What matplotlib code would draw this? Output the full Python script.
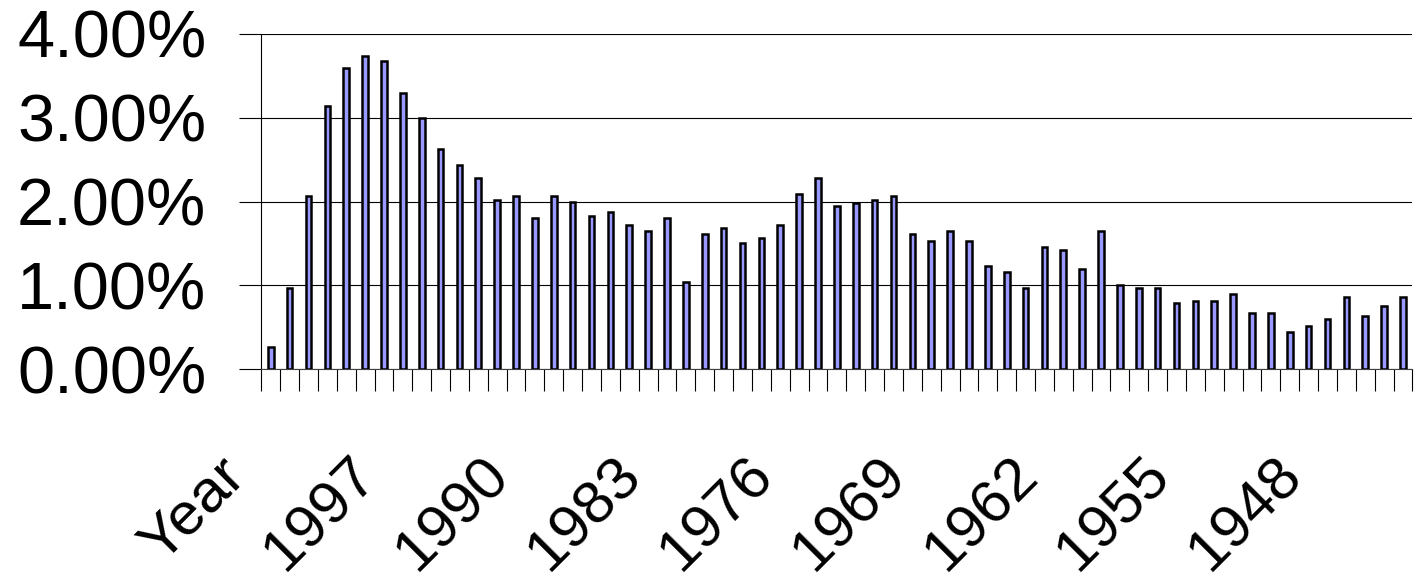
import numpy as np
import matplotlib
matplotlib.use("Agg")
import matplotlib.pyplot as plt
from matplotlib.ticker import FuncFormatter, FixedLocator
from matplotlib.transforms import ScaledTranslation

# categories: header cell then years 2003 .. 1944
categories = ["Year"] + [str(y) for y in range(2003, 1943, -1)]

# share per year, in percent
values = [0.26, 0.97, 2.06, 3.14, 3.59, 3.74, 3.67, 3.29, 3.00, 2.62,
          2.43, 2.28, 2.02, 2.06, 1.80, 2.06, 1.99, 1.83, 1.87, 1.72,
          1.65, 1.80, 1.04, 1.61, 1.68, 1.50, 1.57, 1.72, 2.09, 2.28,
          1.95, 1.98, 2.02, 2.06, 1.61, 1.53, 1.65, 1.53, 1.23, 1.16,
          0.97, 1.46, 1.42, 1.20, 1.65, 1.01, 0.97, 0.97, 0.79, 0.82,
          0.82, 0.90, 0.67, 0.67, 0.45, 0.52, 0.60, 0.86, 0.64, 0.75,
          0.86]

yticks = [0, 1, 2, 3, 4]

plt.rcParams['font.family'] = ['Liberation Sans', 'DejaVu Sans']

fig = plt.figure(figsize=(14.18, 5.79), dpi=100)
ax = fig.add_axes([261.3 / 1418, 1 - 369.3 / 579, 1151.1 / 1418, 335.6 / 579])

x = np.arange(len(categories))
ax.bar(x, values, width=0.3, color='#9999ff', edgecolor='black', linewidth=1.8, zorder=3)

ax.set_xlim(-0.5, len(categories) - 0.5)
ax.set_ylim(0, 4)
ax.set_yticks(yticks)
ax.yaxis.set_major_formatter(FuncFormatter(lambda v, p: f"{v:.2f}%"))
ax.tick_params(axis='y', length=15.6, width=0.8, pad=24, labelsize=48)
ax.yaxis.grid(True, color='black', linewidth=0.8, zorder=0)

# labels every 7th category, tick marks between categories
label_idx = list(range(0, len(categories), 7))
ax.set_xticks(label_idx)
ax.set_xticklabels([categories[i] for i in label_idx], rotation=45, ha='right', va='top')
ax.xaxis.set_minor_locator(FixedLocator(np.arange(len(categories) + 1) - 0.5))
ax.tick_params(axis='x', which='major', length=0, pad=56, labelsize=43.5)
ax.tick_params(axis='x', which='minor', length=16, width=0.8)
for lab in ax.get_xticklabels():
    lab.set_transform(lab.get_transform() + ScaledTranslation(-0.15, 0, fig.dpi_scale_trans))

for s in ['top', 'right']:
    ax.spines[s].set_visible(False)
ax.spines['left'].set_linewidth(0.8)
ax.spines['bottom'].set_linewidth(0.8)
ax.spines['bottom'].set_color('#404040')

fig.savefig("out.png", dpi=100)
